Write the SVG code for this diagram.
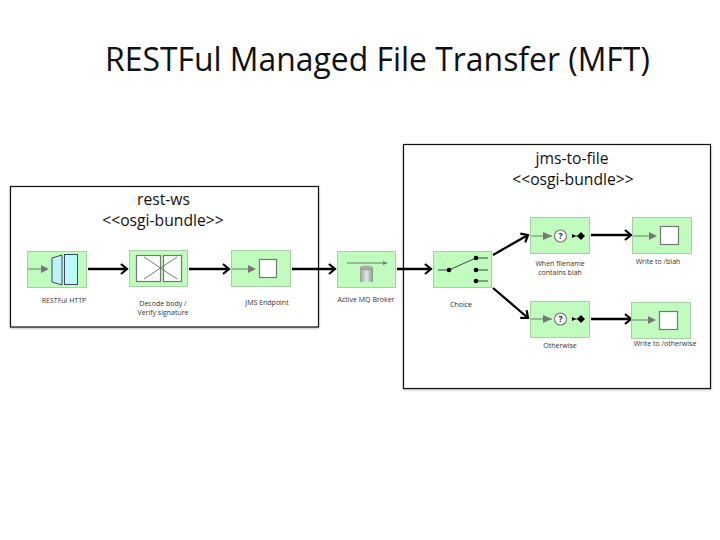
<svg xmlns="http://www.w3.org/2000/svg" width="720" height="540" viewBox="0 0 720 540">
<style>
text{font-family:"Open Sans","Noto Sans",sans-serif;fill:#111}
.t{font-size:31.900px;text-anchor:start}
.h{font-size:15.700px;text-anchor:middle}
.l{font-size:7px;text-anchor:middle;fill:#333}
.box{fill:#fff;stroke:#111;stroke-width:1.2;filter:drop-shadow(0 1px 1px #bbb)}
.n{fill:#bffcbd;stroke:#a9cfa8;stroke-width:1}
.g{stroke:#777;stroke-width:1;fill:none}
.tri{fill:#777}
.sq{fill:#fff;stroke:#777;stroke-width:1.2}
.k{stroke:#333;stroke-width:.9;fill:none}
.d{fill:#000}
.c{stroke:#000;stroke-width:2.300;fill:none;marker-end:url(#a)}
.q{fill:#fff;stroke:#777;stroke-width:1.1}
</style>
<defs>
<marker id="a" markerUnits="userSpaceOnUse" markerWidth="12" markerHeight="14" refX="9" refY="7" orient="auto"><path d="M3 2L9 7L3 12" fill="none" stroke="#000" stroke-width="2.200"/></marker>
<linearGradient id="cy" x1="0" x2="1" y1="0" y2="0"><stop offset="0" stop-color="#8fa38f"/><stop offset=".5" stop-color="#dfe8df"/><stop offset="1" stop-color="#86988a"/></linearGradient>
</defs>
<rect width="720" height="540" fill="#fff"/>
<text class="t" x="105" y="71">RESTFul Managed File Transfer (MFT)</text>
<g id="rest-ws"><rect class="box" x="10.500" y="186.500" width="308" height="140.500"/><text class="h" x="163.500" y="205">rest-ws</text><text class="h" x="163" y="226">&lt;&lt;osgi-bundle&gt;&gt;</text></g>
<g id="jms-to-file"><rect class="box" x="403.500" y="144.500" width="307" height="244"/><text class="h" x="572" y="164">jms-to-file</text><text class="h" x="573" y="185">&lt;&lt;osgi-bundle&gt;&gt;</text></g>
<g id="connectors">
<path class="c" d="M88 269H127"/><path class="c" d="M189 269H229"/><path class="c" d="M292 269H335"/><path class="c" d="M397 269H431"/>
<path class="c" d="M493 255L528 235"/><path class="c" d="M493 288L528 318"/>
<path class="c" d="M591 235H631"/><path class="c" d="M591 319H631"/>
</g>
<g id="restful-http"><rect class="n" x="27.500" y="251.500" width="59" height="36"/><path class="g" d="M28 269H44"/><path class="tri" d="M41 265L49 269L41 273Z"/><path d="M52 258L62 255V285L52 282Z" fill="#bdf3f5" stroke="#446" stroke-width="1"/><rect x="64.500" y="254.500" width="13" height="30" fill="#bdf9fb" stroke="#446" stroke-width="1"/><text class="l" x="64" y="303">RESTFul HTTP</text></g>
<g id="decode"><rect class="n" x="129.500" y="250.500" width="58" height="36"/><rect class="sq" x="136.500" y="255.500" width="24" height="26" stroke-width="1"/><rect class="sq" x="163.500" y="255.500" width="18" height="26" stroke-width="1"/><path class="g" d="M144 257L177 279M144 279L177 257" stroke-width="1.2"/><text class="l" x="163" y="306">Decode body /</text><text class="l" x="163" y="315">Verify signature</text></g>
<g id="jms-endpoint"><rect class="n" x="231.500" y="250.500" width="59" height="36"/><path class="g" d="M232 269H254"/><path class="tri" d="M248 265L256 269L248 273Z"/><rect class="sq" x="259.500" y="259.500" width="17" height="18"/><text class="l" x="267" y="305">JMS Endpoint</text></g>
<g id="activemq"><rect class="n" x="337.500" y="251.500" width="58" height="36"/><path class="g" d="M347 263H385"/><path class="tri" d="M383 261L388 263L383 265Z"/><rect x="360" y="268" width="13" height="14" fill="url(#cy)"/><ellipse cx="366.500" cy="268" rx="6.500" ry="2" fill="#aaa" stroke="#888" stroke-width=".5"/><text class="l" x="366" y="302">Active MQ Broker</text></g>
<g id="choice"><rect class="n" x="433.500" y="251.500" width="58" height="36"/><path class="k" d="M438 270H449L476 258H488M476 270H488M476 281H488"/><circle class="d" cx="449" cy="270" r="2.300"/><circle class="d" cx="476" cy="258" r="2.300"/><circle class="d" cx="476" cy="270" r="2.300"/><circle class="d" cx="476" cy="281" r="2.300"/><text class="l" x="461" y="307">Choice</text></g>
<g id="when"><rect class="n" x="530.500" y="217.500" width="59" height="36"/><path class="g" d="M531 236H552"/><path class="tri" d="M543 232L552 236L543 240Z"/><circle class="q" cx="560.500" cy="236" r="6"/><text x="560.500" y="239" font-size="8.500" font-weight="700" text-anchor="middle">?</text><path class="k" d="M572 236H578"/><path class="d" d="M572 234L576 236L572 238Z"/><path class="d" d="M581 232L585 236L581 240L577 236Z"/><text class="l" x="560" y="266">When filename</text><text class="l" x="560" y="275">contains blah</text></g>
<g id="otherwise"><rect class="n" x="530.500" y="301.500" width="59" height="36"/><path class="g" d="M531 319H552"/><path class="tri" d="M543 315L552 319L543 323Z"/><circle class="q" cx="560.500" cy="319" r="6"/><text x="560.500" y="322" font-size="8.500" font-weight="700" text-anchor="middle">?</text><path class="k" d="M572 319H578"/><path class="d" d="M572 317L576 319L572 321Z"/><path class="d" d="M581 315L585 319L581 323L577 319Z"/><text class="l" x="560" y="348">Otherwise</text></g>
<g id="write-blah"><rect class="n" x="632.500" y="217.500" width="59" height="36"/><path class="g" d="M633 236H655"/><path class="tri" d="M649 232L657 236L649 240Z"/><rect class="sq" x="660.500" y="226.500" width="18" height="18"/><text class="l" x="658" y="264">Write to /blah</text></g>
<g id="write-otherwise"><rect class="n" x="631.500" y="302.500" width="59" height="36"/><path class="g" d="M632 320H654"/><path class="tri" d="M648 316L656 320L648 324Z"/><rect class="sq" x="659.500" y="311.500" width="18" height="18"/><text class="l" x="665" y="346">Write to /otherwise</text></g>
</svg>
